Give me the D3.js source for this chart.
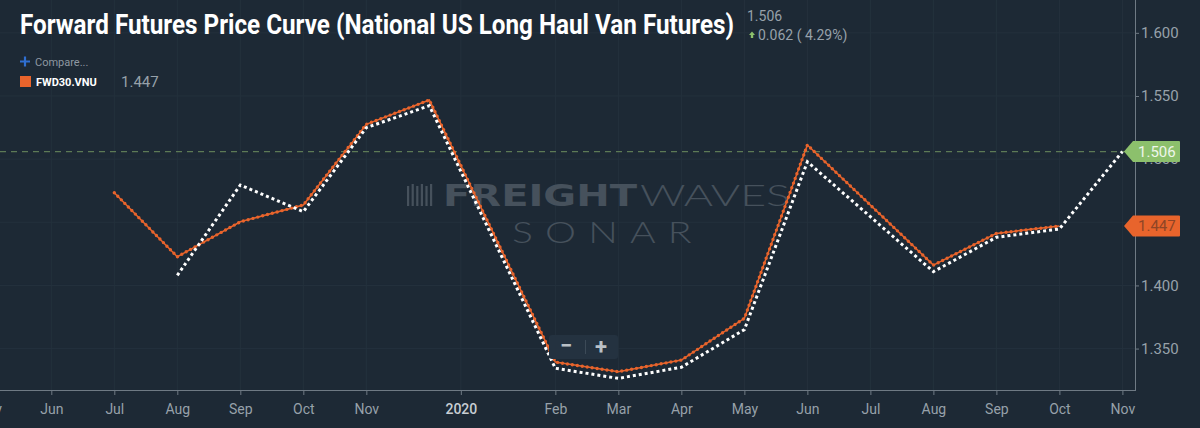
<!DOCTYPE html>
<html>
<head>
<meta charset="utf-8">
<script src="https://cdn.jsdelivr.net/npm/d3@7.9.0/dist/d3.min.js"></script>
<style>
  html, body { margin: 0; padding: 0; background: #1d2834; }
  svg { display: block; font-family: Roboto, "Noto Sans", sans-serif; }
</style>
</head>
<body>
<div id="chart"></div>
<script>
// forward curve (white dotted) - contract months and prices
const curveMonths = ['2019-08', '2019-09', '2019-10', '2019-11', '2019-12', '2020-02', '2020-03',
  '2020-04', '2020-05', '2020-06', '2020-08', '2020-09', '2020-10', '2020-11'];
const curveValues = [1.408, 1.4795, 1.4584, 1.5249, 1.5423, 1.3344, 1.3264,
  1.3352, 1.365, 1.4979, 1.4109, 1.4381, 1.4447, 1.506];

// FWD30.VNU compare series (orange)
const fwdMonths = ['2019-07', '2019-08', '2019-09', '2019-10', '2019-11', '2019-12', '2020-02',
  '2020-03', '2020-04', '2020-05', '2020-06', '2020-08', '2020-09', '2020-10'];
const fwdValues = [1.4734, 1.4227, 1.4504, 1.4637, 1.5276, 1.5468, 1.3393,
  1.3317, 1.3409, 1.374, 1.5112, 1.4161, 1.4412, 1.447];

// axis ticks
const tickKeys = ['2019-05', '2019-06', '2019-07', '2019-08', '2019-09', '2019-10', '2019-11', '2020-01',
  '2020-02', '2020-03', '2020-04', '2020-05', '2020-06', '2020-07', '2020-08', '2020-09', '2020-10', '2020-11'];
const tickLabels = ['May', 'Jun', 'Jul', 'Aug', 'Sep', 'Oct', 'Nov', '2020',
  'Feb', 'Mar', 'Apr', 'May', 'Jun', 'Jul', 'Aug', 'Sep', 'Oct', 'Nov'];
const yTicks = [1.35, 1.40, 1.45, 1.50, 1.55, 1.60];

const lastValue = 1.506;
const fwdLast = 1.447;
const change = '0.062 ( 4.29%)';

const width = 1200;
const height = 428;
const axisX = 1135;
const axisY = 390;

// month string -> month index (Jan 2019 = 0)
function monthIdx(s) {
  const [y, m] = s.split('-').map(Number);
  return (y - 2019) * 12 + m - 1;
}
// year ticks sit half a month before January
function tickPos(s) {
  const i = monthIdx(s);
  return s.endsWith('-01') ? i - 0.5 : i;
}

const x = d3.scaleLinear().domain([5, 22]).range([51.3, 1122.4]);
const y = d3.scaleLinear().domain([1.3172, 1.626]).range([axisY, 0]);

const svg = d3.select('#chart').append('svg')
  .attr('width', width)
  .attr('height', height);

svg.append('rect').attr('width', width).attr('height', height).attr('fill', '#1d2935');

// grid
const grid = svg.append('g');
grid.selectAll('line.v')
  .data(tickKeys)
  .join('line')
  .attr('class', 'v')
  .attr('x1', d => x(tickPos(d))).attr('x2', d => x(tickPos(d)))
  .attr('y1', 0).attr('y2', axisY)
  .attr('stroke', '#24313d').attr('stroke-width', 1);
grid.selectAll('line.h')
  .data(yTicks)
  .join('line')
  .attr('class', 'h')
  .attr('x1', 0).attr('x2', axisX)
  .attr('y1', d => y(d)).attr('y2', d => y(d))
  .attr('stroke', '#24313d').attr('stroke-width', 1);

// watermark
const wm = svg.append('g').attr('fill', '#46515c');
[0, 1, 2, 3, 4, 5].forEach(i => {
  wm.append('rect')
    .attr('x', 407 + i * 4.6).attr('y', i % 2 ? 184 : 186)
    .attr('width', 2.2).attr('height', i % 2 ? 22 : 20);
});
wm.append('text')
  .attr('x', 443).attr('y', 206)
  .attr('font-family', '"DejaVu Sans", sans-serif')
  .attr('font-weight', 700).attr('font-size', 30)
  .attr('textLength', 194).attr('lengthAdjust', 'spacingAndGlyphs')
  .text('FREIGHT');
wm.append('text')
  .attr('x', 640).attr('y', 206)
  .attr('font-family', 'Lato, sans-serif')
  .attr('font-weight', 300).attr('font-size', 30)
  .attr('textLength', 150).attr('lengthAdjust', 'spacingAndGlyphs')
  .text('WAVES');
wm.append('g')
  .attr('transform', 'translate(512,243) scale(1.35,1)')
  .append('text')
  .attr('font-family', 'Lato, sans-serif')
  .attr('font-weight', 300).attr('font-size', 29)
  .attr('letter-spacing', 9)
  .text('SONAR');

// last value dashed line
svg.append('line')
  .attr('x1', 0).attr('x2', axisX)
  .attr('y1', y(lastValue)).attr('y2', y(lastValue))
  .attr('stroke', '#5d7a56').attr('stroke-width', 1.3)
  .attr('stroke-dasharray', '6,5');

// lines
const line = d3.line()
  .x(d => x(monthIdx(d[0])))
  .y(d => y(d[1]));

const fwdData = d3.zip(fwdMonths, fwdValues);
const curveData = d3.zip(curveMonths, curveValues);

svg.append('path')
  .datum(fwdData)
  .attr('d', line)
  .attr('fill', 'none')
  .attr('stroke', '#e8642c')
  .attr('stroke-width', 1.5);
svg.append('path')
  .datum(fwdData)
  .attr('d', line)
  .attr('fill', 'none')
  .attr('stroke', '#e8642c')
  .attr('stroke-width', 3.4)
  .attr('stroke-linecap', 'round')
  .attr('stroke-dasharray', '0,5');

svg.append('path')
  .datum(curveData)
  .attr('d', line)
  .attr('fill', 'none')
  .attr('stroke', '#ffffff')
  .attr('stroke-width', 3)
  .attr('stroke-dasharray', '3,3');

// axes
const xAxis = svg.append('g')
  .attr('transform', `translate(0,${axisY})`)
  .call(d3.axisBottom(x)
    .tickValues(tickKeys.map(tickPos))
    .tickFormat((d, i) => tickLabels[i])
    .tickSizeInner(5).tickSizeOuter(0));
xAxis.select('.domain').remove();
xAxis.selectAll('line').attr('stroke', '#6f7a84');
xAxis.selectAll('text')
  .attr('dy', '1.15em')
  .attr('fill', '#97a1aa')
  .attr('font-size', 14)
  .attr('font-family', 'Roboto, sans-serif')
  .filter((d, i) => tickLabels[i] === '2020')
  .attr('fill', '#c8ced3')
  .attr('font-weight', 500);

svg.append('line')
  .attr('x1', 0).attr('x2', axisX)
  .attr('y1', axisY + 0.5).attr('y2', axisY + 0.5)
  .attr('stroke', '#6f7a84');

const yAxis = svg.append('g')
  .attr('transform', `translate(${axisX},0)`)
  .call(d3.axisRight(y)
    .tickValues(yTicks)
    .tickFormat(d3.format('.3f'))
    .tickSizeInner(4).tickSizeOuter(0));
yAxis.select('.domain').attr('stroke', '#6f7a84').attr('d', `M0.5,0V${axisY + 1}`);
yAxis.selectAll('line').attr('stroke', '#6f7a84');
yAxis.selectAll('text')
  .attr('fill', '#97a1aa')
  .attr('font-size', 15)
  .attr('x', 6)
  .attr('font-family', 'Roboto, sans-serif');

// price badges on the axis
function badge(v, fill, textFill) {
  const cy = y(v);
  const g = svg.append('g').attr('transform', `translate(${axisX - 11},${cy})`);
  g.append('path')
    .attr('d', 'M0,0 L9,-10.5 H55 Q56,-10.5 56,-9.5 V9.5 Q56,10.5 55,10.5 H9 Z')
    .attr('fill', fill);
  g.append('text')
    .attr('x', 14).attr('y', 0).attr('dy', '0.36em')
    .attr('fill', textFill)
    .attr('font-size', 15)
    .text(d3.format('.3f')(v));
}
badge(lastValue, '#8cc06c', '#eef6ea');
badge(fwdLast, '#e8642c', '#8e4526');

// zoom control
const zc = svg.append('g');
zc.append('rect')
  .attr('x', 549).attr('y', 335).attr('width', 69).attr('height', 24).attr('rx', 3)
  .attr('fill', '#243240');
zc.append('text').attr('x', 566).attr('y', 353).attr('text-anchor', 'middle')
  .attr('fill', '#b9c0c6').attr('font-size', 22).attr('font-weight', 700).text('\u2212');
zc.append('line').attr('x1', 585.5).attr('x2', 585.5).attr('y1', 340).attr('y2', 354)
  .attr('stroke', '#3c4a57');
zc.append('text').attr('x', 601).attr('y', 354).attr('text-anchor', 'middle')
  .attr('fill', '#b9c0c6').attr('font-size', 22).attr('font-weight', 700).text('+');

// title & header
svg.append('text')
  .attr('x', 20).attr('y', 34)
  .attr('fill', '#ffffff')
  .attr('font-size', 27).attr('font-weight', 700)
  .attr('textLength', 714).attr('lengthAdjust', 'spacingAndGlyphs')
  .text('Forward Futures Price Curve (National US Long Haul Van Futures)');

svg.append('text')
  .attr('x', 747).attr('y', 21)
  .attr('fill', '#97a1aa').attr('font-size', 14)
  .text(d3.format('.3f')(lastValue));
svg.append('path')
  .attr('d', 'M749,35 L752,31.5 L755,35 H753.2 V38 H750.8 V35 Z')
  .attr('fill', '#8cc06c');
svg.append('text')
  .attr('x', 758).attr('y', 40)
  .attr('fill', '#97a1aa').attr('font-size', 14)
  .text(change);

// legend
svg.append('path')
  .attr('d', 'M20,61.5 H30 M25,56.5 V66.5')
  .attr('stroke', '#2f6fd1').attr('stroke-width', 2.2);
svg.append('text')
  .attr('x', 35).attr('y', 65.5)
  .attr('fill', '#8e98a1').attr('font-size', 11)
  .text('Compare...');
svg.append('rect')
  .attr('x', 20).attr('y', 76).attr('width', 11).attr('height', 11)
  .attr('fill', '#e8642c');
svg.append('text')
  .attr('x', 36).attr('y', 86)
  .attr('fill', '#ffffff').attr('font-size', 11).attr('font-weight', 700)
  .text('FWD30.VNU');
svg.append('text')
  .attr('x', 121).attr('y', 87)
  .attr('fill', '#97a1aa').attr('font-size', 15)
  .text(d3.format('.3f')(fwdLast));
</script>
</body>
</html>
